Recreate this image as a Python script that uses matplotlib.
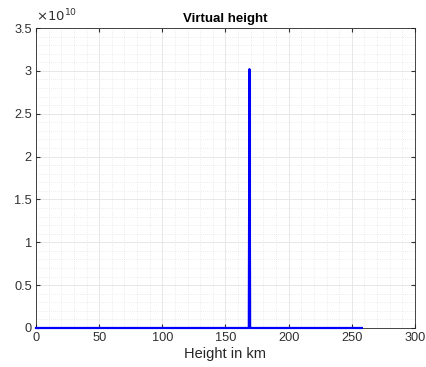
import matplotlib
matplotlib.use("Agg")
import matplotlib.pyplot as plt
from matplotlib.ticker import MultipleLocator, FuncFormatter

plt.rcParams['font.family'] = ['Liberation Sans', 'DejaVu Sans']

heights_km = [0, 168.5, 169, 169.5, 258]
virtual_vals = [0, 0, 3.02e10, 0, 0]
scale = 1e10

fig = plt.figure(figsize=(4.26, 3.67), dpi=100)
ax = fig.add_axes([0.0845, 0.1063, 0.8895, 0.8174])
ax.plot(heights_km, virtual_vals, color='#0000ff', lw=1.6, clip_on=False, zorder=5)

ax.set_xlim(0, 300)
ax.set_ylim(0, 3.5e10)
ax.xaxis.set_major_locator(MultipleLocator(50))
ax.xaxis.set_minor_locator(MultipleLocator(10))
ax.yaxis.set_major_locator(MultipleLocator(0.5e10))
ax.yaxis.set_minor_locator(MultipleLocator(0.1e10))
ax.yaxis.set_major_formatter(FuncFormatter(lambda v, p: '%g' % round(v / scale, 3)))
ax.xaxis.set_major_formatter(FuncFormatter(lambda v, p: '%g' % v))

ax.grid(which='major', color='#e4e4e4', lw=0.6, ls='-')
ax.grid(which='minor', color='#dcdcdc', lw=0.5, ls=(0, (1, 2)))
ax.set_axisbelow(True)

for s in ax.spines.values():
    s.set_color('#262626')
    s.set_linewidth(0.6)
ax.tick_params(which='both', direction='in', top=True, right=True, colors='#303030', labelsize=9.2)
ax.tick_params(which='major', length=3, pad=3)
ax.tick_params(which='minor', length=0)

ax.text(0.0, 1.012, r'$\times10^{10}$', transform=ax.transAxes, fontsize=9.5,
        color='#303030', ha='left', va='bottom')

ax.set_xlabel('Height in km', fontsize=10.5, color='#262626', labelpad=2)
ax.set_title('Virtual height', fontsize=9.5, fontweight='bold', color='black', pad=4)

fig.savefig('out.png', dpi=100)
